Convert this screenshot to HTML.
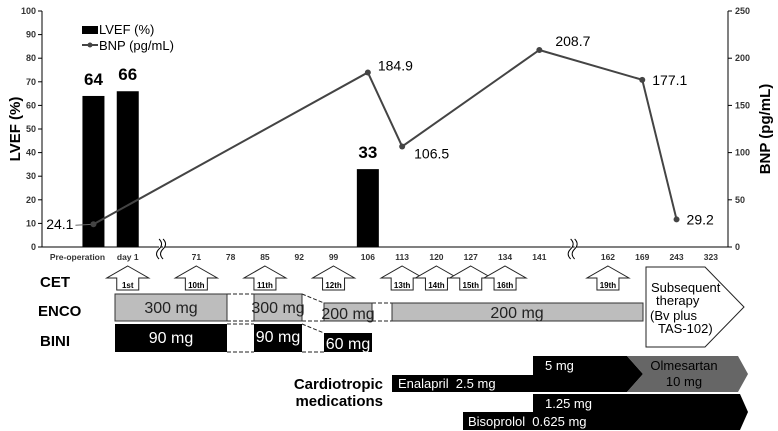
<!DOCTYPE html>
<html><head><meta charset="utf-8"><style>
html,body{margin:0;padding:0;background:#fff;}
svg{display:block;font-family:"Liberation Sans",Arial,sans-serif;}
</style></head><body>
<svg id="c" width="778" height="431" viewBox="0 0 778 431">
<g id="axes"></g><g id="marks"></g>
<g id="lower">
 <text x="40" y="287" font-size="15" font-weight="bold">CET</text>
 <text x="38" y="316" font-size="15" font-weight="bold">ENCO</text>
 <text x="40" y="346" font-size="15" font-weight="bold">BINI</text>
 <g id="arrows"></g>
 <g stroke="#222" stroke-width="1" stroke-dasharray="4,2" fill="none">
  <line x1="227" y1="294" x2="254" y2="294"/><line x1="227" y1="321" x2="254" y2="321"/>
  <line x1="302" y1="294" x2="324" y2="303"/><line x1="302" y1="321" x2="324" y2="321"/>
  <line x1="372" y1="303" x2="392" y2="303"/><line x1="372" y1="321" x2="392" y2="321"/>
  <line x1="227" y1="324" x2="254" y2="324"/><line x1="227" y1="352" x2="254" y2="352"/>
  <line x1="302" y1="324" x2="324" y2="333"/><line x1="302" y1="352" x2="324" y2="352"/>
 </g>
 <g font-size="16" text-anchor="middle" fill="#222">
  <rect x="115" y="294" width="112" height="27" fill="#bdbdbd" stroke="#333"/><text x="171" y="313">300 mg</text>
  <rect x="254" y="294" width="48" height="27" fill="#bdbdbd" stroke="#333"/><text x="278" y="313">300 mg</text>
  <rect x="324" y="303" width="48" height="18" fill="#bdbdbd" stroke="#333"/><text x="348" y="319">200 mg</text>
  <rect x="392" y="303" width="251" height="18" fill="#bdbdbd" stroke="#333"/><text x="517" y="318">200 mg</text>
 </g>
 <g font-size="16" text-anchor="middle" fill="#fff">
  <rect x="115" y="324" width="112" height="28" fill="#000"/><text x="171" y="343">90 mg</text>
  <rect x="254" y="324" width="48" height="28" fill="#000"/><text x="278" y="342">90 mg</text>
  <rect x="324" y="333" width="48" height="19" fill="#000"/><text x="348" y="349">60 mg</text>
 </g>
 <g>
  <polygon points="646,267 705,267 744,307 705,347 646,347" fill="#fff" stroke="#222"/>
  <text x="651" y="292" font-size="13">Subsequent</text>
  <text x="656" y="305" font-size="13">therapy</text>
  <text x="650" y="320" font-size="13">(Bv plus</text>
  <text x="658" y="333" font-size="13">TAS-102)</text>
 </g>
 <text x="383" y="389" font-size="15" font-weight="bold" text-anchor="end">Cardiotropic</text>
 <text x="383" y="406" font-size="15" font-weight="bold" text-anchor="end">medications</text>
 <g>
  <polygon points="392,375 533,375 533,356 627,356 643,374 627,392 392,392" fill="#000"/>
  <text x="398" y="388" font-size="13" fill="#fff">Enalapril&#160;&#160;2.5 mg</text>
  <text x="545" y="370" font-size="13" fill="#fff">5 mg</text>
 </g>
 <g>
  <polygon points="627,356 738,356 748,374 738,392 627,392 643,374" fill="#666"/>
  <text x="684" y="370" font-size="13" fill="#000" text-anchor="middle">Olmesartan</text>
  <text x="684" y="386" font-size="13" fill="#000" text-anchor="middle">10 mg</text>
 </g>
 <g>
  <polygon points="463,412 533,412 533,394 740,394 748,412 740,430 463,430" fill="#000"/>
  <text x="468" y="426" font-size="13" fill="#fff">Bisoprolol&#160;&#160;0.625 mg</text>
  <text x="545" y="408" font-size="13" fill="#fff">1.25 mg</text>
 </g>
</g>
</svg>
<script>
const categories=["","Pre-operation","day 1","~","71","78","85","92","99","106","113","120","127","134","141","~","162","169","243","323"];
const lvefCats=["Pre-operation","day 1","106"];
const lvefValues=[64,66,33];
const bnpCats=["Pre-operation","106","113","141","169","243"];
const bnpValues=[24.1,184.9,106.5,208.7,177.1,29.2];
const leftTicks=[0,10,20,30,40,50,60,70,80,90,100];
const rightTicks=[0,50,100,150,200,250];
const cetCats=["day 1","71","85","99","113","120","127","134","162"];
const cetLabels=["1st","10th","11th","12th","13th","14th","15th","16th","19th"];

const X0=42,X1=728,Y0=247,Y1=11;
const bw=(X1-X0)/categories.length;
function xc(c){return X0+bw*(categories.indexOf(c)+0.5);}
function yL(v){return Y0-(v/100)*(Y0-Y1);}
function yR(v){return Y0-(v/250)*(Y0-Y1);}
const NS="http://www.w3.org/2000/svg";
function mk(p,t,a,txt){const e=document.createElementNS(NS,t);for(const k in a)e.setAttribute(k,a[k]);if(txt!=null)e.textContent=txt;p.appendChild(e);return e;}
const ax=document.getElementById('axes'),mg=document.getElementById('marks');
let e;
e=mk(ax,'line',{x1:X0,y1:Y1,x2:X0,y2:Y0,stroke:'#000'});


e=mk(ax,'line',{x1:X1,y1:Y1,x2:X1,y2:Y0,stroke:'#000'});


e=mk(ax,'line',{x1:X0,y1:Y0,x2:X1,y2:Y0,stroke:'#000'});


leftTicks.forEach(t=>{
 mk(ax,'line',{x1:X0-4,y1:yL(t),x2:X0,y2:yL(t),stroke:'#000'});
 e=mk(ax,'text',{x:X0-6,y:yL(t)+3,'font-size':9,'font-weight':'bold',fill:'#333','text-anchor':'end'},t);
 
 
});
rightTicks.forEach(t=>{
 mk(ax,'line',{x1:X1,y1:yR(t),x2:X1+4,y2:yR(t),stroke:'#000'});
 e=mk(ax,'text',{x:X1+7,y:yR(t)+3,'font-size':9,'font-weight':'bold',fill:'#333'},t);
 
 
});
categories.forEach((c,i)=>{
 if(c==="")return;
 const x=X0+bw*(i+0.5);
 if(c==="~"){
  e=mk(ax,'path',{d:`M${x-3} ${Y0-8} q5 5 0 10 q-5 5 0 10 M${x+1} ${Y0-8} q5 5 0 10 q-5 5 0 10`,stroke:'#000',fill:'#fff','stroke-width':1});
  
  
  return;
 }
 e=mk(ax,'text',{x:c==="Pre-operation"?x-16:x,y:Y0+13,'font-size':8.5,'font-weight':'bold',fill:'#333','text-anchor':'middle'},c);
 
 
});
e=mk(ax,'text',{x:0,y:0,'font-size':15,'font-weight':'bold','text-anchor':'middle',transform:'translate(20,129) rotate(-90)'},'LVEF (%)');


e=mk(ax,'text',{x:0,y:0,'font-size':15,'font-weight':'bold','text-anchor':'middle',transform:'translate(770,129) rotate(-90)'},'BNP (pg/mL)');


e=mk(ax,'rect',{x:82,y:26,width:16,height:8,fill:'#000'});


e=mk(ax,'text',{x:99,y:34,'font-size':13},'LVEF (%)');


mk(ax,'line',{x1:82,y1:45,x2:98,y2:45,stroke:'#444','stroke-width':2});
mk(ax,'circle',{cx:90,cy:45,r:2.5,fill:'#444'});
e=mk(ax,'text',{x:99,y:50,'font-size':13},'BNP (pg/mL)');


lvefCats.forEach((c,i)=>{
 const x=xc(c),v=lvefValues[i];
 e=mk(mg,'rect',{x:x-11,y:yL(v),width:22,height:Y0-yL(v),fill:'#000'});
 
 
 e=mk(mg,'text',{x:x,y:yL(v)-11,'font-size':17,'font-weight':'bold','text-anchor':'middle'},v);
 
 
});
const pts=bnpCats.map((c,i)=>[xc(c),yR(bnpValues[i])]);
e=mk(mg,'polyline',{points:pts.map(p=>p.join(',')).join(' '),fill:'none',stroke:'#444','stroke-width':2});


const offs=[[-20,5,'end'],[10,-2,'start'],[12,12,'start'],[16,-4,'start'],[10,5,'start'],[10,5,'start']];
pts.forEach((p,i)=>{
 if(i===0) mk(mg,'line',{x1:p[0]-18,y1:p[1]+1,x2:p[0],y2:p[1],stroke:'#666'});
 e=mk(mg,'circle',{cx:p[0],cy:p[1],r:3,fill:'#444'});
 
 
 e=mk(mg,'text',{x:p[0]+offs[i][0],y:p[1]+offs[i][1],'font-size':14,'text-anchor':offs[i][2]},bnpValues[i].toFixed(1));
 
 
});
const ar=document.getElementById('arrows');
cetCats.forEach((c,i)=>{
 const x=xc(c);
 e=mk(ar,'polygon',{points:`${x},266 ${x+21},278 ${x+11},278 ${x+11},290 ${x-11},290 ${x-11},278 ${x-21},278`,fill:'#fff',stroke:'#222'});
 
 
 e=mk(ar,'text',{x:x,y:288,'font-size':8,'font-weight':'bold','text-anchor':'middle'},cetLabels[i]);
 
 
});
</script>
</body></html>
